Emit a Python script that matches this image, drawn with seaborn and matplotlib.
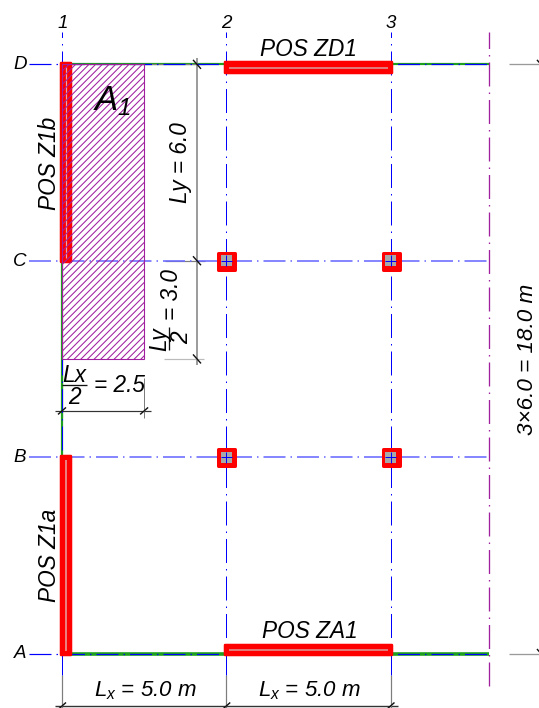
import matplotlib
matplotlib.use("Agg")
import matplotlib.pyplot as plt
from matplotlib.patches import Rectangle
import seaborn as sns

# ---- structural data (metres) ----
grid_x = [0.0, 5.0, 10.0]
grid_y = [0.0, 6.0, 12.0, 18.0]
x_labels = ["1", "2", "3"]
y_labels = ["A", "B", "C", "D"]
edge_x = 13.0
right_dim_x = 14.58
column_x = [5.0, 10.0, 5.0, 10.0]
column_y = [6.0, 6.0, 12.0, 12.0]
area_x = [0.0, 2.5]
area_y = [9.0, 18.0]

sns.set_theme(style="white")
plt.rcParams["font.family"] = ["Liberation Sans", "DejaVu Sans"]
plt.rcParams["font.style"] = "italic"
plt.rcParams["mathtext.fontset"] = "custom"
plt.rcParams["mathtext.it"] = "Liberation Sans:italic"
plt.rcParams["mathtext.rm"] = "Liberation Sans:italic"
plt.rcParams["mathtext.default"] = "it"
plt.rcParams["lines.scale_dashes"] = False
plt.rcParams["hatch.linewidth"] = 0.75

W, H = 539, 708
SX, SY = 32.85, 32.73
X0, Y0 = 62.0, 653.5
PT = 0.72  # points per pixel at dpi 100

fig = plt.figure(figsize=(W / 100, H / 100), dpi=100, facecolor="white")
ax = fig.add_axes([0, 0, 1, 1])


def dx(p):
    return p / SX


def dy(p):
    return p / SY


def at(px, py):
    return (px - X0) / SX, (Y0 - py) / SY


def seg(xs, ys, color, width, z=2, dash=None):
    kw = {}
    if dash is not None:
        kw["linestyle"] = (0, tuple(d * PT for d in dash))
    sns.lineplot(x=xs, y=ys, color=color, lw=width * PT, zorder=z, ax=ax,
                 estimator=None, sort=False, errorbar=None, legend=False,
                 solid_capstyle="butt", dash_capstyle="butt", **kw)


def label(px, py, s, size=16.3, rot=0, color="black", z=10):
    x, y = at(px, py)
    ax.text(x, y, s, fontsize=size, rotation=rot, ha="center", va="center",
            color=color, style="italic", zorder=z)


BLUE = "#0000ff"
LBLUE = "#6a6aff"
GREEN = "#1f9f1f"
RED = "#ff0000"
GREY = "#7d7d7d"
PURPLE = "#a020a0"
DARK = "#333333"
VDASH = (24, 6, 1.5, 6)
HDASH = (22, 5, 1.5, 5)

# green slab edges and the bottom-left wall
seg([grid_x[0], edge_x], [grid_y[0], grid_y[0]], GREEN, 3.6, z=3)
seg([grid_x[0], edge_x], [grid_y[3], grid_y[3]], GREEN, 2.2, z=3)
seg([grid_x[0], grid_x[0]], [grid_y[1], grid_y[2]], GREEN, 2.2, z=3)

# grid lines
for gx in grid_x:
    seg([gx, gx], [grid_y[0] - dy(21.5), grid_y[3] + dy(32.5)], BLUE, 1.0, z=4, dash=VDASH)
for i, gy in enumerate(grid_y):
    mid = i in (1, 2)
    seg([grid_x[0] - dx(33), edge_x], [gy, gy], LBLUE if mid else BLUE,
        1.6 if mid else 1.2, z=4, dash=HDASH)

# right purple axis
seg([edge_x, edge_x], [grid_y[0] - dy(32.5), grid_y[3] + dy(32.5)], PURPLE, 1.3, z=4, dash=VDASH)

# red beams
BT = 10.5


def beam(x0, x1, y0, y1):
    ax.add_patch(Rectangle((x0, y0), x1 - x0, y1 - y0, facecolor=RED, edgecolor=RED,
                           linewidth=2.5 * PT, joinstyle="round", zorder=5))


ctr_top = grid_y[3] - dy(3.3)
ctr_bot = grid_y[0] + dy(3.3)
for cy in (ctr_top, ctr_bot):
    beam(grid_x[1] - dx(1.5), grid_x[2] + dx(1.5), cy - dy(BT / 2), cy + dy(BT / 2))
    seg([grid_x[1] + dx(2.5), grid_x[2] - dx(2.5)], [cy, cy], "#d9a0a0", 1.5, z=6)

cx = grid_x[0] + dx(4)
beam(cx - dx(BT / 2), cx + dx(BT / 2), grid_y[2] - dy(1), grid_y[3] + dy(1.5))
beam(cx - dx(BT / 2), cx + dx(BT / 2), grid_y[0] - dy(1), grid_y[1] + dy(1.5))
seg([cx, cx], [grid_y[0] + dy(3), grid_y[1] - dy(3)], "#e8a8a8", 1.5, z=6)
seg([cx, cx], [grid_y[2] + dy(3), grid_y[3] - dy(3)], "#e8a8a8", 1.2, z=6)

# columns
pts = sns.scatterplot(x=column_x, y=column_y, s=(17 * PT) ** 2, marker="s", color=RED,
                      edgecolor=RED, linewidth=3 * PT, zorder=5, ax=ax, legend=False)
pts.collections[-1].set_joinstyle("round")
sns.scatterplot(x=column_x, y=column_y, s=(11 * PT) ** 2, marker="s", color="#a8a8a8",
                edgecolor="none", linewidth=0, zorder=6, ax=ax, legend=False)
for gy in grid_y[1:3]:
    for gx in grid_x[1:]:
        seg([gx, gx], [gy - dy(5.5), gy + dy(5.5)], BLUE, 1.0, z=7)
        seg([gx - dx(5.5), gx + dx(5.5)], [gy, gy], BLUE, 1.0, z=7)

# tributary area
ax.add_patch(Rectangle((area_x[0], area_y[0]), area_x[1] - area_x[0], area_y[1] - area_y[0],
                       facecolor="none", edgecolor=PURPLE, hatch="/////", linewidth=1.1 * PT, zorder=6))


# dimension lines
def vtick(x, y):
    seg([x - dx(4), x + dx(4)], [y + dy(4.5), y - dy(4.5)], "#111111", 1.4, z=8)


def htick(x, y):
    seg([x - dx(4), x + dx(4)], [y - dy(3.5), y + dy(3.5)], "#111111", 1.4, z=8)


dim_x = grid_x[0] + dx(135)
seg([dim_x, dim_x], [area_y[0] - dy(6), area_y[1] + dy(6)], GREY, 1.5, z=3)
seg([area_x[1], dim_x + dx(8)], [grid_y[3], grid_y[3]], GREY, 1.2, z=3)
seg([dim_x - dx(32), dim_x + dx(8)], [grid_y[2], grid_y[2]], GREY, 1.2, z=3)
seg([dim_x - dx(33), dim_x + dx(7)], [area_y[0], area_y[0]], "#bbbbbb", 1.2, z=3)
for vy in (grid_y[3], grid_y[2], area_y[0]):
    vtick(dim_x, vy)

dim_y = area_y[0] - dy(52)
seg([grid_x[0] - dx(7), area_x[1] + dx(7)], [dim_y, dim_y], DARK, 1.2, z=3)
seg([area_x[1], area_x[1]], [dim_y - dy(7), dim_y + dy(33)], GREY, 1.0, z=3)
seg([grid_x[0], grid_x[0]], [dim_y - dy(7), area_y[0]], GREY, 1.2, z=2)
for vx in (area_x[0], area_x[1]):
    htick(vx, dim_y)

low_y = grid_y[0] - dy(52.5)
seg([grid_x[0] - dx(7), grid_x[2] + dx(7)], [low_y, low_y], DARK, 1.4, z=3)
for gx in grid_x:
    seg([gx, gx], [grid_y[0] - dy(21.5), low_y - dy(2)], GREY, 1.2, z=3)
    htick(gx, low_y)

for gy in (grid_y[0], grid_y[3]):
    seg([edge_x + dx(20), right_dim_x + dx(1)], [gy, gy], "#9a9a9a", 1.3, z=3)
    vtick(right_dim_x, gy)

# text
for gx, s in zip(grid_x, x_labels):
    label(X0 + gx * SX + 0.5, 23, s, size=13.5)
for gy, s in zip(grid_y, y_labels):
    label(20, Y0 - gy * SY + 0.5, s, size=13.5)

label(309, 49, "POS ZD1")
label(309.5, 631, "POS ZA1")
label(49.5, 163, "POS Z1b", rot=90)
label(49.5, 555, "POS Z1a", rot=90)
label(112, 101, r"$A_1$", size=25)
label(181, 163, "Ly = 6.0", rot=90)
label(171, 294, "= 3.0", rot=90)
label(160, 339, "Ly", rot=90)
label(181.5, 338, "2", rot=90)
x1, y1 = at(168.5, 327)
x2, y2 = at(168.5, 350)
seg([x1, x2], [y1, y2], "#111111", 1.3, z=9)
label(74, 375, "Lx")
label(74, 398, "2")
x1, y1 = at(62, 385)
x2, y2 = at(87, 385)
seg([x1, x2], [y1, y2], "#111111", 1.3, z=9)
label(120, 386, "= 2.5")
label(145, 691, r"$L_x$ = 5.0 m", size=16)
label(309, 691, r"$L_x$ = 5.0 m", size=16)
label(527.5, 359, "3×6.0 = 18.0 m", size=16.2, rot=90)

ax.set_xlim(-X0 / SX, (W - X0) / SX)
ax.set_ylim((Y0 - H) / SY, Y0 / SY)
ax.set_axis_off()
fig.savefig("out.png", dpi=100, facecolor="white")
